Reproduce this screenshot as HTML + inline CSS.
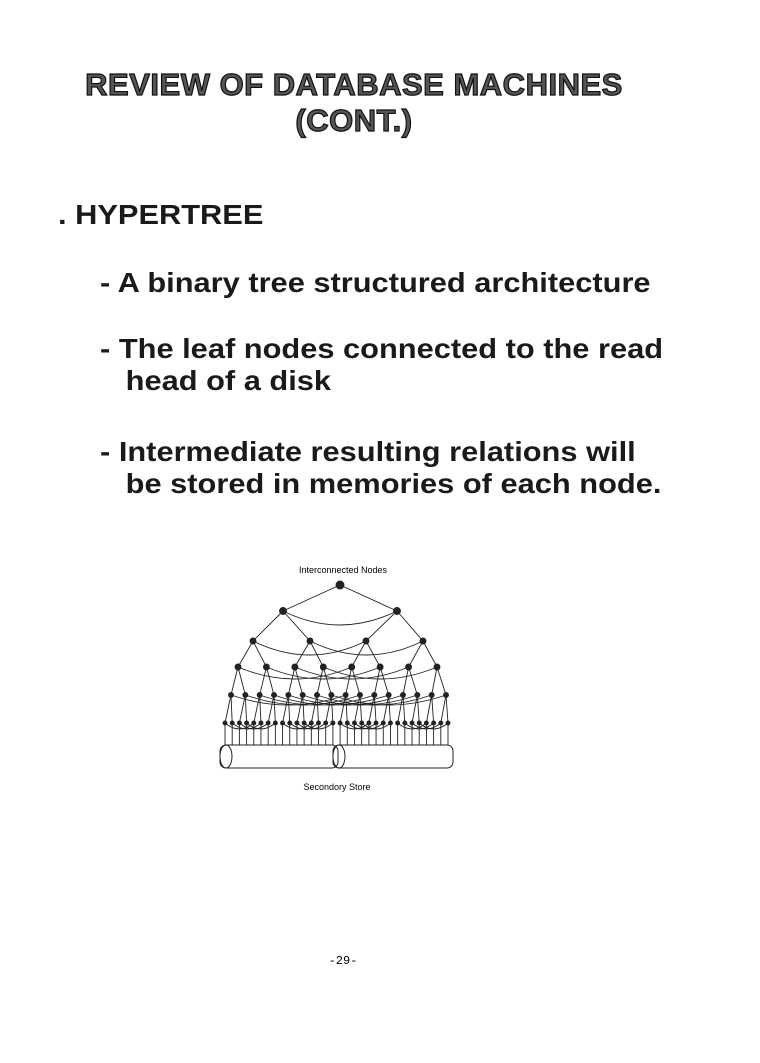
<!DOCTYPE html>
<html><head><meta charset="utf-8"><style>
body{margin:0;width:760px;height:1063px;background:#fff;position:relative;overflow:hidden;font-family:"Liberation Sans",Arial,sans-serif;color:#1a1a1a}
.t{position:absolute;left:0;width:708px;text-align:center;font-weight:bold;font-size:31px;color:#555;-webkit-text-stroke:1.2px #111;letter-spacing:0.5px}
.b{position:absolute;font-weight:bold;font-size:28px;white-space:nowrap;line-height:32px;transform:scaleX(1.1);transform-origin:0 0}
</style></head><body>
<div class="t" style="top:67px">REVIEW OF DATABASE MACHINES</div>
<div class="t" style="top:103px">(CONT.)</div>
<div class="b" style="left:58px;top:199px">. HYPERTREE</div>
<div class="b" style="left:100px;top:267px">- A binary tree structured architecture</div>
<div class="b" style="left:100px;top:333px">- The leaf nodes connected to the read<br>&nbsp;&nbsp;&nbsp;head of a disk</div>
<div class="b" style="left:100px;top:436px">- Intermediate resulting relations will<br>&nbsp;&nbsp;&nbsp;be stored in memories of each node.</div>
<svg id="d" width="760" height="1063" style="position:absolute;left:0;top:0" font-family="Liberation Sans, sans-serif">
<text x="343" y="573" font-size="9" text-anchor="middle">Interconnected Nodes</text>
<text x="337" y="790" font-size="9" text-anchor="middle">Secondory Store</text>
<text x="343" y="964" font-size="12" font-family="Liberation Mono, monospace" text-anchor="middle">-29-</text>
<g stroke="#222" fill="none" stroke-width="1">
<rect x="220" y="745" width="118" height="23" rx="6"/>
<ellipse cx="226" cy="756.5" rx="6" ry="11.5"/>
<rect x="333" y="745" width="120" height="23" rx="6"/>
<ellipse cx="339" cy="756.5" rx="6" ry="11.5"/>
</g>
<g id="tree" stroke="#222" fill="none" stroke-width="0.9"></g>
</svg>
<script>
var ys=[585,611,641,667,695,723],L=[];
L.push([340]);L.push([283,397]);L.push([253,310,366,423]);
function spread(n,a,b){var r=[];for(var i=0;i<n;i++)r.push(a+(b-a)*i/(n-1));return r;}
L.push(spread(8,238,437));L.push(spread(16,231,446));L.push(spread(32,225,448));
var s='';
for(var k=0;k<5;k++)for(var i=0;i<L[k].length;i++)for(var c=0;c<2;c++){var j=2*i+c;s+='<line x1="'+L[k][i]+'" y1="'+ys[k]+'" x2="'+L[k+1][j]+'" y2="'+ys[k+1]+'"/>';}
for(var k=1;k<5;k++){var n=L[k].length,h=n/2;for(var i=0;i<h;i++){var a=L[k][i],b=L[k][i+h];var sag=k<3?14:(k<4?12:10);s+='<path d="M'+a+' '+ys[k]+' Q'+((a+b)/2)+' '+(ys[k]+sag*2)+' '+b+' '+ys[k]+'"/>';}}
for(var g=0;g<4;g++)for(var i=0;i<4;i++){var a=L[5][g*8+i],b=L[5][g*8+i+4];s+='<path d="M'+a+' '+ys[5]+' Q'+((a+b)/2)+' '+(ys[5]+12)+' '+b+' '+ys[5]+'"/>';}
for(var i=0;i<32;i++)s+='<line x1="'+L[5][i]+'" y1="'+ys[5]+'" x2="'+L[5][i]+'" y2="745"/>';
var r=[4,3.5,3,3,2.5,2];
for(var k=0;k<6;k++)for(var i=0;i<L[k].length;i++)s+='<circle cx="'+L[k][i]+'" cy="'+ys[k]+'" r="'+r[k]+'" fill="#222"/>';
document.getElementById('tree').innerHTML=s;
</script>
</body></html>
